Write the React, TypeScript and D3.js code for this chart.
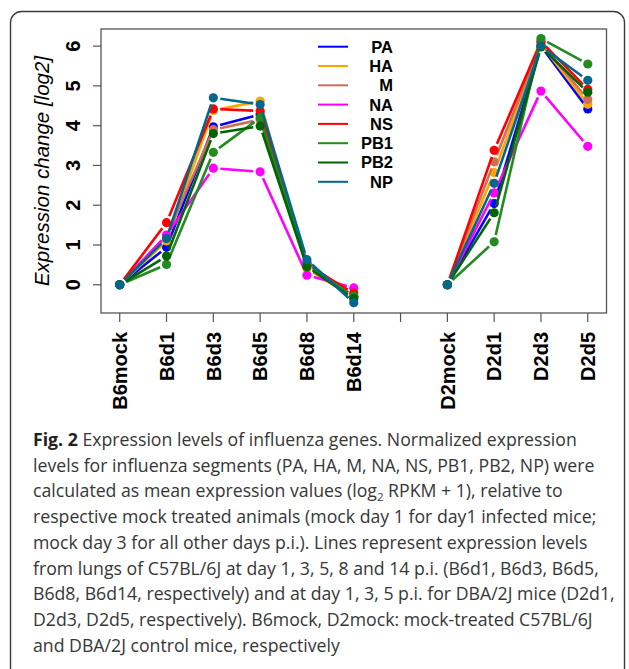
import React, { useRef, useEffect } from 'react';
import * as d3 from 'd3';

// x positions 1..11, slot 7 is an empty tick between the two strains
const tickLabels = ['B6mock', 'B6d1', 'B6d3', 'B6d5', 'B6d8', 'B6d14', '', 'D2mock', 'D2d1', 'D2d3', 'D2d5'];
const b6Pos = [1, 2, 3, 4, 5, 6];
const d2Pos = [8, 9, 10, 11];

const genes = ['PA', 'HA', 'M', 'NA', 'NS', 'PB1', 'PB2', 'NP'];
const geneColors = ['#0000ff', '#ffa500', '#cd7054', '#ff00ff', '#ff0000', '#228b22', '#006400', '#00688b'];

// log2 expression change, B6 series (mock, d1, d3, d5, d8, d14)
const b6Values = [
  [0, 0.94, 3.97, 4.28, 0.55, -0.3],
  [0, 1.1, 4.38, 4.62, 0.4, -0.32],
  [0, 1.22, 3.9, 4.15, 0.48, -0.28],
  [0, 1.25, 2.93, 2.84, 0.24, -0.08],
  [0, 1.56, 4.42, 4.37, 0.5, -0.21],
  [0, 0.51, 3.33, 4.2, 0.49, -0.29],
  [0, 0.72, 3.8, 3.99, 0.45, -0.35],
  [0, 1.16, 4.7, 4.53, 0.63, -0.45],
];

// D2 series (mock, d1, d3, d5)
const d2Values = [
  [0, 2.04, 6.0, 4.42],
  [0, 2.82, 6.05, 4.54],
  [0, 3.09, 6.08, 4.66],
  [0, 2.31, 4.87, 3.48],
  [0, 3.38, 6.12, 4.91],
  [0, 1.08, 6.19, 5.55],
  [0, 1.81, 5.98, 4.84],
  [0, 2.55, 6.0, 5.14],
];

const yTicks = [0, 1, 2, 3, 4, 5, 6];

const captionLines = [
  ' Expression levels of influenza genes. Normalized expression',
  'levels for influenza segments (PA, HA, M, NA, NS, PB1, PB2, NP) were',
  'calculated as mean expression values (log|2| RPKM + 1), relative to',
  'respective mock treated animals (mock day 1 for day1 infected mice;',
  'mock day 3 for all other days p.i.). Lines represent expression levels',
  'from lungs of C57BL/6J at day 1, 3, 5, 8 and 14 p.i. (B6d1, B6d3, B6d5,',
  'B6d8, B6d14, respectively) and at day 1, 3, 5 p.i. for DBA/2J mice (D2d1,',
  'D2d3, D2d5, respectively). B6mock, D2mock: mock-treated C57BL/6J',
  'and DBA/2J control mice, respectively',
];

const W = 629;
const H = 669;
const plot = { left: 101, right: 606.5, top: 29, bottom: 313 };
const chartFont = '"Liberation Sans", Arial, sans-serif';

export default function App() {
  const svgRef = useRef<SVGSVGElement>(null);

  useEffect(() => {
    if (!svgRef.current) return;
    const svg = d3.select(svgRef.current);
    svg.selectAll('*').remove();

    const x = d3.scaleLinear().domain([0.6, 11.4]).range([plot.left, plot.right]);
    const y = d3.scaleLinear().domain([-0.71, 6.43]).range([plot.bottom, plot.top]);

    // outer figure frame, open at the bottom of the crop
    svg.append('rect')
      .attr('x', 10.5).attr('y', 11.5)
      .attr('width', 614).attr('height', 720)
      .attr('rx', 11)
      .attr('fill', 'none')
      .attr('stroke', '#3a3a3a')
      .attr('stroke-width', 1.4);

    // plot box
    svg.append('rect')
      .attr('x', plot.left).attr('y', plot.top)
      .attr('width', plot.right - plot.left).attr('height', plot.bottom - plot.top)
      .attr('fill', 'none')
      .attr('stroke', '#555')
      .attr('stroke-width', 1.3);

    // y axis
    const yAxis = svg.append('g').attr('font-family', chartFont);
    yTicks.forEach(t => {
      yAxis.append('line')
        .attr('x1', plot.left - 8).attr('x2', plot.left)
        .attr('y1', y(t)).attr('y2', y(t))
        .attr('stroke', '#555').attr('stroke-width', 1.2);
      yAxis.append('text')
        .attr('transform', `translate(73,${y(t)}) rotate(-90)`)
        .attr('text-anchor', 'middle')
        .attr('dy', '0.36em')
        .attr('font-size', 20)
        .attr('font-weight', 700)
        .text(t);
    });
    svg.append('text')
      .attr('transform', `translate(42,${(plot.top + plot.bottom) / 2}) rotate(-90)`)
      .attr('text-anchor', 'middle')
      .attr('dy', '0.36em')
      .attr('font-family', chartFont)
      .attr('font-style', 'italic')
      .attr('font-size', 20.5)
      .text('Expression change [log2]');

    // x axis
    const xAxis = svg.append('g').attr('font-family', chartFont);
    tickLabels.forEach((lab, i) => {
      const px = x(i + 1);
      xAxis.append('line')
        .attr('x1', px).attr('x2', px)
        .attr('y1', plot.bottom).attr('y2', plot.bottom + 9)
        .attr('stroke', '#555').attr('stroke-width', 1.2);
      if (lab) {
        xAxis.append('text')
          .attr('transform', `translate(${px},332) rotate(-90)`)
          .attr('text-anchor', 'end')
          .attr('dy', '0.36em')
          .attr('font-size', 20)
          .attr('font-weight', 700)
          .text(lab);
      }
    });

    // R type="b": segments leave a gap around each point
    const gap = 7;
    const drawSeries = (g: any, pos: number[], vals: number[], color: string) => {
      const pts = pos.map((p, i) => [x(p), y(vals[i])]);
      for (let i = 0; i < pts.length - 1; i++) {
        const [x1, y1] = pts[i];
        const [x2, y2] = pts[i + 1];
        const len = Math.hypot(x2 - x1, y2 - y1);
        if (len <= gap * 2) continue;
        const ux = (x2 - x1) / len;
        const uy = (y2 - y1) / len;
        g.append('line')
          .attr('x1', x1 + ux * gap).attr('y1', y1 + uy * gap)
          .attr('x2', x2 - ux * gap).attr('y2', y2 - uy * gap)
          .attr('stroke', color)
          .attr('stroke-width', 2.6);
      }
      pts.forEach(([cx, cy]) => {
        g.append('circle').attr('cx', cx).attr('cy', cy).attr('r', 4.6).attr('fill', color);
      });
    };

    genes.forEach((gene, gi) => {
      const g = svg.append('g');
      drawSeries(g, b6Pos, b6Values[gi], geneColors[gi]);
      drawSeries(g, d2Pos, d2Values[gi], geneColors[gi]);
    });

    // legend
    const legend = svg.append('g').attr('font-family', chartFont);
    genes.forEach((gene, gi) => {
      const ly = 46.7 + gi * 19.3;
      legend.append('line')
        .attr('x1', 318).attr('x2', 348)
        .attr('y1', ly).attr('y2', ly)
        .attr('stroke', geneColors[gi])
        .attr('stroke-width', 2);
      legend.append('text')
        .attr('x', 393).attr('y', ly)
        .attr('dy', '0.36em')
        .attr('text-anchor', 'end')
        .attr('font-size', 16.5)
        .attr('font-weight', 700)
        .text(gene);
    });

    // caption
    const cap = svg.append('g')
      .attr('font-family', '"Open Sans", "Noto Sans", sans-serif')
      .attr('font-size', 17.7)
      .attr('fill', '#363636');
    captionLines.forEach((line, li) => {
      const t = cap.append('text').attr('x', 33).attr('y', 446 + li * 25.7);
      if (li === 0) {
        t.append('tspan').attr('font-weight', 700).attr('fill', '#222').text('Fig. 2');
      }
      const parts = line.split('|');
      if (parts.length === 3) {
        t.append('tspan').text(parts[0]);
        t.append('tspan').attr('dy', 4).attr('font-size', 11.5).text(parts[1]);
        t.append('tspan').attr('dy', -4).text(parts[2]);
      } else {
        t.append('tspan').text(line);
      }
    });
  }, []);

  return (
    <div style={{ position: 'absolute', left: 0, top: 0, background: '#fff' }}>
      <svg ref={svgRef} width={W} height={H} />
    </div>
  );
}
